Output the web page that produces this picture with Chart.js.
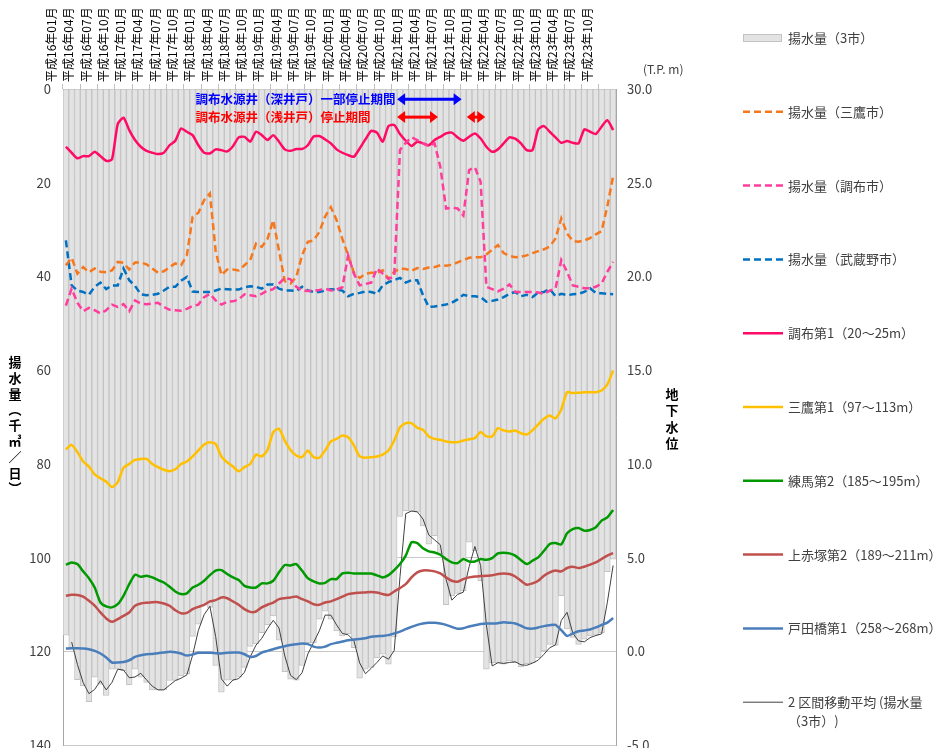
<!DOCTYPE html>
<html>
<head>
<meta charset="utf-8">
<script src="https://cdn.jsdelivr.net/npm/chart.js@4.4.0/dist/chart.umd.min.js"></script>
<style>
  html, body { margin: 0; padding: 0; background: #fff; overflow: hidden; }
  #wrap { width: 943px; height: 748px; overflow: hidden; }
</style>
</head>
<body>
<div id="wrap"><canvas id="chart" width="943" height="765"></canvas></div>
<script>
// month categories H16/01 .. H23/12
var years = [16, 17, 18, 19, 20, 21, 22, 23];
var months = [];
years.forEach(function (y) {
    for (var m = 1; m <= 12; m++) months.push('平成' + y + '年' + (m < 10 ? '0' + m : m) + '月');
});

// 揚水量 (千m3/日), left axis
var pumpTotal = [116.5, 119.5, 126, 127.3, 130.7, 125.5, 127, 129.4, 123.8, 123.8, 124.1, 127.1,
    123.8, 125.5, 126.6, 128.2, 128.2, 128.2, 126.2, 126.2, 125.2, 124.8, 116.8, 114.2,
    110.1, 110.6, 123, 128.7, 126.1, 126.1, 125.5, 123.4, 118.9, 118.4, 116, 114.3,
    112.4, 117.6, 124.3, 125.9, 126.1, 123, 118.1, 118.1, 113.1, 111.4, 113.1, 115.6,
    116.7, 116.2, 119.2, 125.7, 123.8, 123.4, 121.3, 120.6, 122.7, 116.9, 91.2, 90.0,
    90.1, 90.3, 93.2, 97.1, 95.3, 99.2, 110.0, 108.1, 107.6, 107.1, 96.7, 98.5,
    104.9, 123.8, 122.4, 122.4, 122.7, 122.0, 122.4, 123.3, 122.6, 122.4, 121.3, 119.9,
    118.5, 118.7, 108.1, 115.2, 117.0, 118.5, 117.4, 116.7, 116.5, 116.0, 103.0, 100.3];
var pumpMitaka = [37.6, 36.0, 39.4, 38.0, 39.1, 38.3, 39.0, 39.1, 38.7, 36.9, 37.1, 38.5,
    37.0, 37.0, 37.4, 38.3, 39.2, 38.9, 38.0, 37.2, 37.6, 35.5, 27.3, 26.4,
    23.7, 22.3, 34.5, 39.7, 38.5, 38.5, 38.7, 37.6, 36.5, 33.0, 33.7, 32.0,
    28.0, 34.5, 41.0, 41.5, 40.1, 35.5, 32.6, 32.3, 30.5, 27.2, 25.2, 28.0,
    32.0, 35.5, 39.2, 40.3, 39.4, 39.2, 39.2, 38.7, 40.5, 39.0, 38.3, 38.4,
    38.8, 38.2, 38.4, 38.1, 38.0, 37.6, 37.7, 37.5, 37.0, 36.5, 36.0, 35.9,
    35.9, 35.3, 34.3, 33.3, 35.0, 35.6, 35.9, 35.8, 35.5, 35.0, 34.6, 34.2,
    33.6, 31.9, 27.6, 30.8, 32.4, 32.6, 32.3, 31.8, 31.0, 30.3, 25.0, 18.6];
var pumpChofu = [46.2, 42.6, 45.6, 47.4, 46.7, 47.2, 47.9, 47.2, 46.0, 46.5, 45.9, 47.4,
    45.1, 45.8, 45.9, 45.8, 45.6, 46.5, 47.1, 47.2, 47.3, 46.9, 46.3, 46.0,
    44.4, 43.7, 45.1, 46.0, 45.4, 45.3, 44.9, 43.8, 44.0, 44.2, 43.7, 43.0,
    42.7, 41.5, 40.3, 40.6, 42.2, 43.0, 43.1, 43.0, 42.9, 42.6, 43.0, 42.8,
    42.3, 35.5, 39.4, 41.9, 41.6, 41.3, 38.3, 39.4, 40.5, 40.0, 13.0, 11.5,
    10.3, 10.9, 11.6, 12.2, 11.6, 16.6, 25.5, 25.3, 25.5, 27.0, 17.3, 16.7,
    19.8, 42.2, 42.7, 43.2, 42.6, 41.7, 43.3, 43.3, 43.3, 43.3, 43.4, 43.7,
    43.0, 42.6, 36.5, 39.0, 41.9, 42.2, 42.5, 42.5, 42.2, 41.5, 39.0, 36.9];
var pumpMusashino = [32.3, 41.9, 43.0, 43.3, 43.9, 42.2, 41.3, 42.7, 41.9, 41.9, 38.3, 40.8,
    42.0, 43.8, 44.0, 43.9, 43.7, 43.0, 42.2, 42.2, 40.9, 40.1, 43.2, 43.3,
    43.3, 43.3, 43.0, 42.6, 42.7, 42.8, 42.8, 42.3, 42.1, 42.2, 42.6, 41.7,
    41.7, 42.6, 43.0, 43.0, 43.1, 42.2, 43.0, 43.3, 43.3, 43.0, 42.7, 42.8,
    43.0, 44.2, 43.7, 43.5, 43.2, 43.3, 43.7, 41.9, 41.2, 40.8, 40.3, 41.3,
    40.8, 40.8, 44.0, 46.5, 46.4, 46.2, 46.0, 45.6, 44.9, 43.9, 44.2, 44.2,
    44.4, 45.4, 45.2, 44.9, 44.4, 43.7, 43.3, 44.2, 43.9, 44.4, 43.4, 43.3,
    42.7, 44.2, 43.7, 44.0, 43.8, 43.7, 43.3, 42.5, 43.5, 43.6, 43.7, 43.8];

// 地下水位 (T.P. m), right axis
var wellChofu1 = [26.92, 26.6, 26.3, 26.42, 26.42, 26.65, 26.42, 26.17, 26.24, 28.13, 28.47, 27.81,
    27.28, 26.92, 26.7, 26.6, 26.53, 26.6, 27.0, 27.24, 27.9, 27.72, 27.54, 27.0,
    26.6, 26.56, 26.78, 26.74, 26.67, 26.95, 27.42, 27.45, 27.19, 27.72, 27.54, 27.28,
    27.54, 27.19, 26.78, 26.7, 26.8, 26.8, 27.0, 27.47, 27.49, 27.31, 27.1, 26.78,
    26.6, 26.47, 26.39, 26.83, 27.31, 27.77, 27.67, 27.19, 28.02, 28.08, 27.6, 27.24,
    26.96, 27.19, 27.1, 27.0, 27.28, 27.45, 27.63, 27.67, 27.42, 27.24, 27.45, 27.63,
    27.36, 26.92, 26.65, 26.78, 27.1, 27.42, 27.35, 27.1, 26.74, 26.74, 27.85, 28.02,
    27.72, 27.42, 27.13, 27.22, 27.13, 27.1, 27.85, 27.72, 27.6, 27.99, 28.34, 27.81];
var wellMitaka1 = [10.77, 11.02, 10.63, 10.13, 9.86, 9.44, 9.24, 9.06, 8.76, 9.03, 9.79, 10.0,
    10.22, 10.27, 10.27, 10.0, 9.83, 9.69, 9.61, 9.72, 10.0, 10.13, 10.4, 10.72,
    11.04, 11.16, 11.07, 10.4, 10.09, 9.86, 9.61, 9.83, 10.0, 10.5, 10.4, 10.75,
    11.7, 11.88, 11.25, 10.75, 10.45, 10.36, 10.72, 10.36, 10.33, 10.72, 11.2, 11.34,
    11.52, 11.43, 10.99, 10.4, 10.33, 10.36, 10.4, 10.5, 10.72, 11.25, 11.96, 12.18,
    12.18, 11.93, 11.82, 11.47, 11.34, 11.29, 11.2, 11.16, 11.16, 11.25, 11.32, 11.38,
    11.7, 11.47, 11.47, 11.91, 11.79, 11.73, 11.79, 11.64, 11.57, 11.79, 12.11, 12.41,
    12.59, 12.43, 12.91, 13.83, 13.78, 13.8, 13.82, 13.82, 13.83, 13.92, 14.24, 14.99];
var wellNerima2 = [4.63, 4.75, 4.66, 4.27, 3.91, 3.41, 2.61, 2.4, 2.35, 2.52, 2.97, 3.59,
    4.09, 3.98, 4.04, 3.95, 3.81, 3.68, 3.45, 3.2, 3.06, 3.1, 3.41, 3.56,
    3.77, 4.07, 4.31, 4.34, 4.13, 3.95, 3.81, 3.5, 3.41, 3.41, 3.63, 3.63,
    3.77, 4.22, 4.61, 4.59, 4.66, 4.31, 3.91, 3.74, 3.63, 3.66, 3.86, 3.86,
    4.16, 4.2, 4.16, 4.16, 4.16, 4.16, 4.06, 3.95, 4.07, 4.34, 4.66, 5.11,
    5.82, 5.78, 5.5, 5.34, 5.28, 5.16, 4.93, 4.75, 4.71, 4.93, 4.8, 4.8,
    4.93, 4.89, 4.98, 5.23, 5.27, 5.23, 5.11, 4.87, 4.66, 4.84, 5.02, 5.37,
    5.73, 5.78, 5.71, 6.3, 6.53, 6.58, 6.44, 6.48, 6.62, 6.98, 7.15, 7.55];
var wellKamiakatsuka2 = [2.97, 3.02, 3.01, 2.92, 2.7, 2.44, 2.08, 1.76, 1.58, 1.72, 1.9, 2.08,
    2.44, 2.56, 2.6, 2.63, 2.63, 2.56, 2.44, 2.2, 2.04, 2.06, 2.26, 2.38,
    2.49, 2.67, 2.74, 2.88, 2.84, 2.67, 2.49, 2.26, 2.11, 2.13, 2.35, 2.49,
    2.61, 2.79, 2.84, 2.88, 2.93, 2.79, 2.67, 2.52, 2.49, 2.61, 2.67, 2.79,
    2.92, 3.06, 3.11, 3.13, 3.15, 3.17, 3.15, 3.06, 3.01, 3.2, 3.38, 3.59,
    3.95, 4.22, 4.32, 4.32, 4.27, 4.16, 3.95, 3.77, 3.72, 3.86, 3.95, 4.0,
    4.02, 4.04, 4.06, 4.13, 4.16, 4.13, 4.0, 3.77, 3.56, 3.63, 3.77, 4.04,
    4.22, 4.32, 4.27, 4.45, 4.52, 4.45, 4.52, 4.63, 4.75, 4.93, 5.11, 5.25];
var wellTodabashi1 = [0.16, 0.17, 0.17, 0.16, 0.12, 0.03, -0.11, -0.32, -0.59, -0.59, -0.56, -0.47,
    -0.29, -0.2, -0.15, -0.13, -0.09, -0.06, -0.02, -0.04, -0.11, -0.22, -0.16, -0.07,
    -0.07, -0.07, -0.09, -0.11, -0.07, -0.06, -0.06, -0.15, -0.29, -0.24, -0.06, 0.03,
    0.12, 0.21, 0.28, 0.34, 0.39, 0.42, 0.39, 0.26, 0.21, 0.26, 0.39, 0.46,
    0.53, 0.6, 0.64, 0.67, 0.71, 0.78, 0.81, 0.83, 0.87, 0.96, 1.06, 1.19,
    1.31, 1.42, 1.49, 1.53, 1.53, 1.49, 1.42, 1.31, 1.21, 1.24, 1.33, 1.4,
    1.46, 1.49, 1.49, 1.51, 1.56, 1.53, 1.49, 1.37, 1.24, 1.22, 1.28, 1.35,
    1.4, 1.42, 1.14, 0.83, 0.96, 1.08, 1.12, 1.17, 1.28, 1.42, 1.54, 1.78];

// 2区間移動平均 trendline of the 3-city total
var pumpMA = pumpTotal.map(function (v, i) { return i === 0 ? null : (pumpTotal[i - 1] + v) / 2; });

var leftTicks = [0, 20, 40, 60, 80, 100, 120, 140];
var rightTicks = [-5, 0, 5, 10, 15, 20, 25, 30];

var FONT = '"Noto Sans CJK JP", "Noto Sans", sans-serif';
Chart.defaults.font.family = FONT;

// stop-period notes (positions in category index / left-axis units)
var notes = [
    { text: '調布水源井（深井戸）一部停止期間', color: '#0000ff', level: 2.2, spans: [[57.5, 68.7]] },
    { text: '調布水源井（浅井戸）停止期間', color: '#ff0000', level: 6.0, spans: [[57.5, 64.6], [69.6, 72.8]] }
];
var noteTextStart = 22.5;

function xAt(scale, f) {
    var p0 = scale.getPixelForValue(0), p1 = scale.getPixelForValue(1);
    return p0 + f * (p1 - p0);
}

function drawArrow(ctx, x1, x2, y, color) {
    var hl = 8, hw = 6;
    ctx.save();
    ctx.strokeStyle = color;
    ctx.fillStyle = color;
    ctx.lineWidth = 3;
    ctx.beginPath();
    ctx.moveTo(x1 + hl - 1, y);
    ctx.lineTo(x2 - hl + 1, y);
    ctx.stroke();
    ctx.beginPath();
    ctx.moveTo(x1, y); ctx.lineTo(x1 + hl, y - hw); ctx.lineTo(x1 + hl, y + hw); ctx.closePath();
    ctx.fill();
    ctx.beginPath();
    ctx.moveTo(x2, y); ctx.lineTo(x2 - hl, y - hw); ctx.lineTo(x2 - hl, y + hw); ctx.closePath();
    ctx.fill();
    ctx.restore();
}

var notesPlugin = {
    id: 'notes',
    afterDatasetsDraw: function (chart) {
        var ctx = chart.ctx, xs = chart.scales.x, ys = chart.scales.y;
        notes.forEach(function (n) {
            var y = ys.getPixelForValue(n.level);
            ctx.save();
            ctx.font = 'bold 12.5px ' + FONT;
            ctx.fillStyle = n.color;
            ctx.textBaseline = 'middle';
            ctx.fillText(n.text, xAt(xs, noteTextStart), y);
            ctx.restore();
            n.spans.forEach(function (s) {
                drawArrow(ctx, xAt(xs, s[0]), xAt(xs, s[1]), y, n.color);
            });
        });
    }
};

// axis titles + legend drawn on the canvas
var decorPlugin = {
    id: 'decor',
    afterDraw: function (chart) {
        var ctx = chart.ctx;
        ctx.save();
        // left title, stacked
        var leftChars = ['揚', '水', '量', '︵', '千', '㎥', '／', '日', '︶'];
        ctx.font = 'bold 13px ' + FONT;
        ctx.fillStyle = '#000';
        ctx.textAlign = 'center';
        ctx.textBaseline = 'middle';
        leftChars.forEach(function (c, i) { ctx.fillText(c, 15, 362 + i * 15.8); });
        // right title
        ['地', '下', '水', '位'].forEach(function (c, i) { ctx.fillText(c, 672, 394 + i * 16.3); });
        // unit
        ctx.font = '12px ' + FONT;
        ctx.fillStyle = '#404040';
        ctx.textAlign = 'left';
        ctx.fillText('(T.P. m)', 643, 69);

        // legend
        var x0 = 743, y0 = 38, step = 73.8;
        chart.data.datasets.forEach(function (ds, i) {
            var y = y0 + i * step;
            if (ds.type === 'bar') {
                ctx.fillStyle = ds.backgroundColor;
                ctx.fillRect(x0, y - 4, 39, 8);
                ctx.strokeStyle = ds.borderColor;
                ctx.lineWidth = 1;
                ctx.strokeRect(x0 + 0.5, y - 3.5, 38, 7);
            } else {
                ctx.strokeStyle = ds.borderColor;
                ctx.lineWidth = ds.borderWidth;
                ctx.setLineDash(ds.borderDash || []);
                ctx.beginPath();
                ctx.moveTo(x0, y);
                ctx.lineTo(x0 + 40, y);
                ctx.stroke();
                ctx.setLineDash([]);
            }
            ctx.font = '13px ' + FONT;
            ctx.fillStyle = '#404040';
            ctx.textAlign = 'left';
            ctx.textBaseline = 'middle';
            ds.label.split('\n').forEach(function (t, k) { ctx.fillText(t, x0 + 45, y + k * 19); });
        });
        ctx.restore();
    }
};

function lineSet(label, data, color, axis, dashed, order) {
    return {
        type: 'line', label: label, data: data, yAxisID: axis,
        borderColor: color, backgroundColor: color, borderWidth: 2.5,
        borderDash: dashed ? [7, 4] : [], pointRadius: 0, fill: false,
        tension: dashed ? 0 : 0.2, order: order
    };
}

var datasets = [
    {
        type: 'bar', label: '揚水量（3市）', data: pumpTotal, yAxisID: 'y',
        backgroundColor: '#e3e3e3', borderColor: '#c3c3c3', borderWidth: 1,
        barPercentage: 1, categoryPercentage: 1, order: 20
    },
    lineSet('揚水量（三鷹市）', pumpMitaka, '#f5781e', 'y', true, 2),
    lineSet('揚水量（調布市）', pumpChofu, '#ff3d9c', 'y', true, 1),
    lineSet('揚水量（武蔵野市）', pumpMusashino, '#0070c0', 'y', true, 3),
    lineSet('調布第1（20～25m）', wellChofu1, '#ff0a64', 'y1', false, 5),
    lineSet('三鷹第1（97～113m）', wellMitaka1, '#ffc000', 'y1', false, 6),
    lineSet('練馬第2（185～195m）', wellNerima2, '#009900', 'y1', false, 7),
    lineSet('上赤塚第2（189～211m）', wellKamiakatsuka2, '#c0504d', 'y1', false, 8),
    lineSet('戸田橋第1（258～268m）', wellTodabashi1, '#4a7ebb', 'y1', false, 9),
    {
        type: 'line', label: '2 区間移動平均 (揚水量\n（3市）)', data: pumpMA, yAxisID: 'y',
        borderColor: '#404040', borderWidth: 1, pointRadius: 0, fill: false, tension: 0, order: 10
    }
];

new Chart(document.getElementById('chart').getContext('2d'), {
    data: { labels: months, datasets: datasets },
    options: {
        responsive: false,
        animation: false,
        devicePixelRatio: 1,
        layout: { padding: { left: 0, right: 282, top: 0, bottom: 4 } },
        plugins: { legend: { display: false }, tooltip: { enabled: false } },
        scales: {
            x: {
                type: 'category', position: 'top', offset: true,
                afterFit: function (s) { s.height = 89; },
                grid: {
                    offset: true, drawOnChartArea: false, tickLength: 5,
                    color: function (c) { return c.index % 3 === 0 ? '#bfbfbf' : 'rgba(0,0,0,0)'; }
                },
                border: { display: true, color: '#bfbfbf' },
                ticks: {
                    autoSkip: false, maxRotation: 90, minRotation: 90, padding: 2,
                    color: '#000', font: { size: 12 },
                    callback: function (v, i) { return i % 3 === 0 ? months[i] : ''; }
                }
            },
            y: {
                position: 'left', reverse: true, min: 0, max: 140,
                afterFit: function (s) { s.width = 63; },
                afterBuildTicks: function (s) { s.ticks = leftTicks.map(function (v) { return { value: v }; }); },
                grid: { color: '#c8c8c8', drawTicks: false },
                border: { display: true, color: '#a6a6a6' },
                ticks: { color: '#404040', font: { size: 13 }, padding: 12 }
            },
            y1: {
                position: 'right', min: -5, max: 30,
                afterFit: function (s) { s.width = 45; },
                afterBuildTicks: function (s) { s.ticks = rightTicks.map(function (v) { return { value: v }; }); },
                grid: { drawOnChartArea: false, drawTicks: false },
                border: { display: true, color: '#a6a6a6' },
                ticks: {
                    color: '#404040', font: { size: 13 }, padding: 11,
                    callback: function (v) { return Number(v).toFixed(1); }
                }
            }
        }
    },
    plugins: [notesPlugin, decorPlugin]
});
</script>
</body>
</html>
